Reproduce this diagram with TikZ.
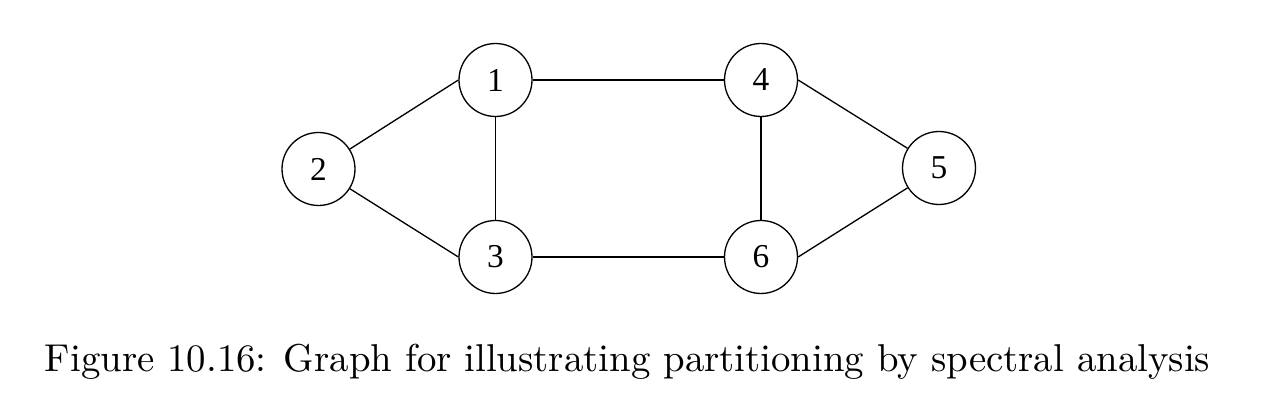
\documentclass[tikz,border=0pt]{standalone}
\usepackage{fontspec}
\newfontfamily\nodefont{Liberation Serif}
\newfontfamily\capfont{lmroman10-regular.otf}
\begin{document}
\begin{tikzpicture}[x=0.02cm,y=-0.02cm,
  vertex/.style={draw,circle,line width=0.75pt,minimum size=1.46cm,inner sep=0pt,font=\nodefont\fontsize{19}{21}\selectfont},
  edge/.style={line width=0.75pt}]
\useasboundingbox (0,0) rectangle (1274,404);
\node[vertex] (n1) at (495.5,80) {1};
\node[vertex] (n4) at (761,80) {4};
\node[vertex] (n2) at (318.5,169) {2};
\node[vertex] (n5) at (939,168) {5};
\node[vertex] (n3) at (495.5,257) {3};
\node[vertex] (n6) at (761,257) {6};
\draw[edge] (n2) -- (n1.west);
\draw[edge] (n2) -- (n3.west);
\draw[edge] (n1) -- (n3);
\draw[edge] (n1) -- (n4);
\draw[edge] (n3) -- (n6);
\draw[edge] (n4) -- (n6);
\draw[edge] (n4.east) -- (n5);
\draw[edge] (n6.east) -- (n5);
\node[anchor=base,inner sep=0pt,font=\capfont\fontsize{22.1}{26}\selectfont] (cap) at (627.5,372) {Figure 10.16: Graph for illustrating partitioning by spectral analysis};
\end{tikzpicture}
\end{document}
